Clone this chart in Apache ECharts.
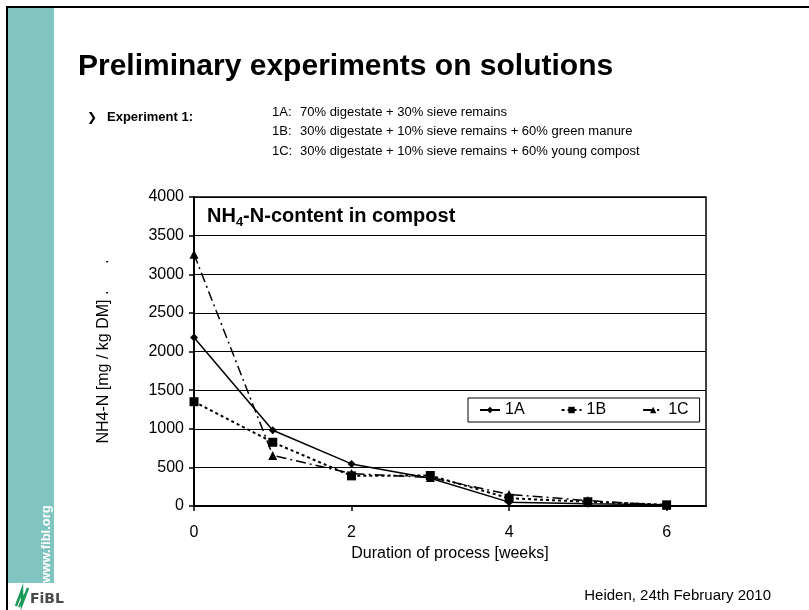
<!DOCTYPE html>
<html>
<head>
<meta charset="utf-8">
<script src="https://cdn.jsdelivr.net/npm/echarts@6/dist/echarts.min.js"></script>
<style>
  html, body { margin: 0; padding: 0; background: #fff; }
  #chart { width: 809px; height: 610px; }
</style>
</head>
<body>
<div id="chart"></div>
<script>
const weeks = [0, 1, 2, 3, 4, 5, 6];
const seriesNames = ["1A", "1B", "1C"];
const values1A = [2180, 980, 545, 360, 50, 30, 15];
const values1B = [1350, 825, 390, 395, 100, 55, 15];
const values1C = [3260, 655, 420, 370, 150, 70, 10];
const xTicks = [0, 2, 4, 6];
const recipeLabels = ["1A:", "1B:", "1C:"];
const recipeTexts = [
  "70% digestate + 30% sieve remains",
  "30% digestate + 10% sieve remains + 60% green manure",
  "30% digestate + 10% sieve remains + 60% young compost"
];

const FONT = "'Liberation Sans', Arial, sans-serif";
const GREEN = "#80c5bf";

function pairs(ys) {
  return weeks.map((w, i) => [w, ys[i]]);
}

function buildSeries() {
  const styles = [
    { symbol: "diamond", size: 8, type: "solid", width: 1.5 },
    { symbol: "rect", size: 9, type: [3, 3], width: 2 },
    { symbol: "triangle", size: 9, type: [10, 4, 2, 4], width: 1.5 }
  ];
  const all = [values1A, values1B, values1C];
  return seriesNames.map((name, i) => ({
    name,
    type: "line",
    data: pairs(all[i]),
    symbol: styles[i].symbol,
    symbolSize: styles[i].size,
    showAllSymbol: true,
    itemStyle: { color: "#000" },
    lineStyle: { color: "#000", width: styles[i].width, type: styles[i].type },
    z: 5 - i
  }));
}

function slideGraphics() {
  const g = [
    // slide frame + green side bar
    { type: "rect", shape: { x: 7, y: 7, width: 820, height: 620 }, style: { fill: "none", stroke: "#000", lineWidth: 2 } },
    { type: "rect", shape: { x: 8, y: 8, width: 46, height: 575 }, style: { fill: GREEN } },
    {
      type: "text", x: 46, y: 544, rotation: Math.PI / 2,
      style: { text: "www.fibl.org", fill: "#fff", font: "bold 13px " + FONT, align: "center", verticalAlign: "middle" }
    },
    {
      type: "text", x: 78, y: 67,
      style: { text: "Preliminary experiments on solutions", fill: "#000", font: "bold 30px " + FONT, verticalAlign: "middle" }
    },
    {
      type: "text", x: 87, y: 118,
      style: { text: "\u276F", fill: "#000", font: "bold 12px 'DejaVu Sans'", verticalAlign: "middle" }
    },
    {
      type: "text", x: 107, y: 117,
      style: { text: "Experiment 1:", fill: "#000", font: "bold 13px " + FONT, verticalAlign: "middle" }
    },
    // FiBL logo
    { type: "polyline", shape: { points: [[16, 606], [22, 590], [22, 604], [28, 588]] }, style: { stroke: "#1a9a5a", lineWidth: 2.5, fill: "none" } },
    { type: "polyline", shape: { points: [[19, 607], [25, 594]] }, style: { stroke: "#1a9a5a", lineWidth: 2, fill: "none" } },
    {
      type: "text", x: 30, y: 599,
      style: { text: "FiBL", fill: "#4a4a4a", font: "bold 14px 'DejaVu Sans'", verticalAlign: "middle" }
    },
    {
      type: "text", x: 771, y: 596,
      style: { text: "Heiden, 24th February 2010", fill: "#000", font: "15px " + FONT, align: "right", verticalAlign: "middle" }
    },
    // chart title inside the plot
    {
      type: "text", x: 207, y: 216, z: 10,
      style: {
        text: "{b|NH}{s|4}{b|-N-content in compost}",
        verticalAlign: "middle",
        rich: {
          b: { font: "bold 20px " + FONT, fill: "#000" },
          s: { font: "bold 13px " + FONT, fill: "#000", padding: [12, 0, 0, 0] }
        }
      }
    }
  ];
  recipeLabels.forEach((lab, i) => {
    const y = 112 + i * 19.5;
    g.push({ type: "text", x: 272, y, style: { text: lab, fill: "#000", font: "13px " + FONT, verticalAlign: "middle" } });
    g.push({ type: "text", x: 300, y, style: { text: recipeTexts[i], fill: "#000", font: "13px " + FONT, verticalAlign: "middle" } });
  });
  return g;
}

function getOption() {
  return {
    backgroundColor: "#fff",
    animation: false,
    textStyle: { fontFamily: FONT, color: "#000" },
    grid: {
      left: 194, top: 197, right: 103, bottom: 104,
      show: true, borderColor: "#000", borderWidth: 1.5, backgroundColor: "#fff"
    },
    legend: {
      left: 468, top: 398,
      padding: [4, 11],
      itemGap: 36,
      itemWidth: 20,
      itemHeight: 8,
      borderColor: "#000",
      borderWidth: 1,
      backgroundColor: "#fff",
      textStyle: { fontSize: 16, color: "#000", fontFamily: FONT },
      data: seriesNames
    },
    xAxis: {
      type: "value",
      min: 0,
      max: 6.5,
      interval: 2,
      name: "Duration of process [weeks]",
      nameLocation: "middle",
      nameGap: 40,
      nameTextStyle: { fontSize: 16, color: "#000" },
      axisLine: { lineStyle: { color: "#000", width: 2 } },
      axisTick: { length: 5, lineStyle: { color: "#000", width: 1.5 } },
      axisLabel: {
        fontSize: 16, color: "#000", margin: 19, showMaxLabel: false,
        formatter: (v) => (xTicks.includes(v) ? String(v) : "")
      },
      splitLine: { show: false }
    },
    yAxis: {
      type: "value",
      min: 0,
      max: 4000,
      interval: 500,
      name: "NH4-N [mg / kg DM] .      .",
      nameLocation: "middle",
      nameGap: 82,
      nameTextStyle: { fontSize: 16, color: "#000" },
      axisLine: { show: true, lineStyle: { color: "#000", width: 2 } },
      axisTick: { show: true, length: 5, lineStyle: { color: "#000", width: 1.5 } },
      axisLabel: { fontSize: 16, color: "#000", margin: 10, formatter: (v) => String(v) },
      splitLine: { lineStyle: { color: "#000", width: 1 } }
    },
    series: buildSeries(),
    graphic: slideGraphics()
  };
}

const chart = echarts.init(document.getElementById("chart"), null, { renderer: "canvas" });
chart.setOption(getOption());
</script>
</body>
</html>
